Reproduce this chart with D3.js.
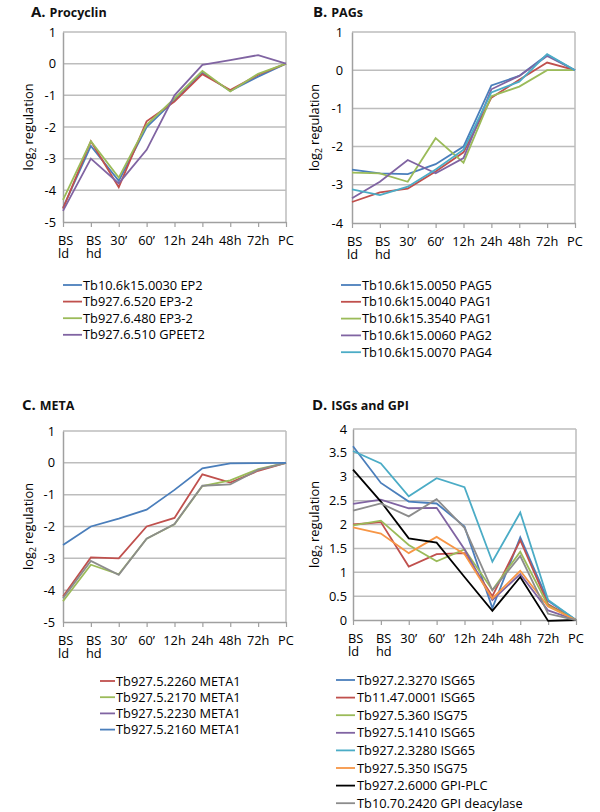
<!DOCTYPE html>
<html><head><meta charset="utf-8">
<script src="https://cdn.jsdelivr.net/npm/d3@7"></script>
<style>
body{margin:0;background:#fff;}
svg{display:block;font-family:"Open Sans",sans-serif;}
</style></head>
<body><svg id="c" width="600" height="812"></svg>
<script>
// ---- data ----
const timepoints = ["BS ld","BS hd","30’","60’","12h","24h","48h","72h","PC"];

// A. Procyclin
const procyclinNames = ["Tb10.6k15.0030 EP2","Tb927.6.520 EP3-2","Tb927.6.480 EP3-2","Tb927.6.510 GPEET2"];
const ep2_0030   = [-4.55,-2.6,-3.7,-2.0,-1.15,-0.28,-0.86,-0.41,0];
const ep32_520   = [-4.58,-2.45,-3.9,-1.82,-1.2,-0.33,-0.83,-0.35,0];
const ep32_480   = [-4.3,-2.45,-3.6,-1.93,-1.1,-0.23,-0.88,-0.32,0];
const gpeet2_510 = [-4.65,-3.0,-3.78,-2.72,-1.0,-0.04,0.11,0.27,0];

// B. PAGs
const pagNames = ["Tb10.6k15.0050 PAG5","Tb10.6k15.0040 PAG1","Tb10.6k15.3540 PAG1","Tb10.6k15.0060 PAG2","Tb10.6k15.0070 PAG4"];
const pag5_0050 = [-2.6,-2.7,-2.72,-2.46,-2.0,-0.4,-0.15,0.4,0];
const pag1_0040 = [-3.45,-3.2,-3.1,-2.65,-2.15,-0.72,-0.25,0.2,0];
const pag1_3540 = [-2.68,-2.7,-2.92,-1.78,-2.42,-0.68,-0.43,0.0,0];
const pag2_0060 = [-3.35,-2.92,-2.35,-2.7,-2.3,-0.5,-0.15,0.37,0];
const pag4_0070 = [-3.12,-3.27,-3.05,-2.6,-2.08,-0.58,-0.3,0.42,0];

// C. META
const metaNames = ["Tb927.5.2260 META1","Tb927.5.2170 META1","Tb927.5.2230 META1","Tb927.5.2160 META1"];
const meta_2260 = [-4.2,-2.97,-3.0,-2.0,-1.73,-0.36,-0.62,-0.25,0];
const meta_2170 = [-4.35,-3.2,-3.5,-2.38,-1.93,-0.73,-0.55,-0.2,0];
const meta_2230 = [-4.25,-3.08,-3.52,-2.38,-1.92,-0.72,-0.68,-0.22,0];
const meta_2160 = [-2.58,-2.0,-1.75,-1.47,-0.85,-0.17,-0.02,-0.01,0];

// D. ISGs and GPI
const isgNames = ["Tb927.2.3270 ISG65","Tb11.47.0001 ISG65","Tb927.5.360 ISG75","Tb927.5.1410 ISG65","Tb927.2.3280 ISG65","Tb927.5.350 ISG75","Tb927.2.6000 GPI-PLC","Tb10.70.2420 GPI deacylase"];
const isg65_3270 = [3.64,2.87,2.48,2.44,1.96,0.25,1.73,0.4,0];
const isg65_0001 = [2.0,2.05,1.12,1.38,1.4,0.5,1.67,0.33,0];
const isg75_360  = [1.98,2.08,1.57,1.23,1.48,0.63,1.43,0.3,0];
const isg65_1410 = [2.43,2.52,2.34,2.35,1.48,0.42,0.96,0.2,0];
const isg65_3280 = [3.54,3.28,2.59,2.97,2.78,1.22,2.25,0.42,0];
const isg75_350  = [1.94,1.81,1.4,1.74,1.38,0.45,1.03,0.28,0];
const gpiplc_6000 = [3.15,2.48,1.71,1.62,0.9,0.19,0.9,-0.02,0];
const gpideac_2420 = [2.29,2.44,2.17,2.53,1.93,0.62,1.34,0.13,0];

const yTicksA = [-5,-4,-3,-2,-1,0,1];
const yTicksB = [-4,-3,-2,-1,0,1];
const yTicksD = [0,0.5,1,1.5,2,2.5,3,3.5,4];

// ---- colours ----
const BLUE="#4a7ebb", RED="#c0504d", GREEN="#9bbb59", PURPLE="#8064a2", CYAN="#4bacc6", ORANGE="#f79646", BLACK="#000000", GRAY="#8c8c8c";

const svg = d3.select("#c");

function panel(cfg){
  const x = d3.scalePoint().domain(timepoints).range([cfg.x0, cfg.x1]);
  const y = d3.scaleLinear().domain(cfg.domain).range([cfg.yBot, cfg.yTop]);
  const g = svg.append("g");

  // grid lines
  g.selectAll("line.grid").data(cfg.ticks.filter(t=>t!==cfg.domain[0])).join("line")
    .attr("x1",cfg.x0).attr("x2",cfg.x1).attr("y1",d=>y(d)).attr("y2",d=>y(d))
    .attr("stroke","#bdbdbd").attr("stroke-width",1.5);
  // right border
  g.append("line").attr("x1",cfg.x1).attr("x2",cfg.x1).attr("y1",cfg.yTop).attr("y2",cfg.yBot)
    .attr("stroke","#bdbdbd").attr("stroke-width",1.5);

  // y axis
  const ya = d3.axisLeft(y).tickValues(cfg.ticks).tickSize(0).tickPadding(cfg.yPad).tickFormat(d=>String(d));
  const yg = g.append("g").attr("transform",`translate(${cfg.x0},0)`).call(ya);
  yg.select(".domain").attr("stroke","#a0a0a0").attr("stroke-width",1.5);
  yg.selectAll("text").attr("font-size",12.8).attr("fill","#000").attr("font-family","'Open Sans',sans-serif");

  // x axis
  const xa = d3.axisBottom(x).tickSize(5).tickSizeOuter(0).tickFormat("");
  const xg = g.append("g").attr("transform",`translate(0,${cfg.yBot})`).call(xa);
  xg.select(".domain").attr("stroke","#a0a0a0").attr("stroke-width",1.5);
  xg.selectAll(".tick line").attr("stroke","#a0a0a0").attr("stroke-width",1.2);
  // x labels (possibly 2 lines)
  timepoints.forEach(tp=>{
    const parts = tp.split(" ");
    const t = g.append("text").attr("font-size",12.8).attr("fill","#000");
    if(parts.length===1){
      t.attr("x",x(tp)).attr("y",cfg.yBot+23).attr("text-anchor","middle").text(tp);
    } else {
      t.attr("text-anchor","start");
      t.append("tspan").attr("x",x(tp)-5).attr("y",cfg.yBot+23).text(parts[0]);
      t.append("tspan").attr("x",x(tp)-5).attr("y",cfg.yBot+36).text(parts[1]);
    }
  });

  // y title
  const yt = g.append("text").attr("transform",`translate(${cfg.yTitleX},${(cfg.yTop+cfg.yBot)/2}) rotate(-90)`)
    .attr("text-anchor","middle").attr("font-size",12.8).attr("fill","#000");
  yt.append("tspan").text("log");
  yt.append("tspan").attr("font-size",8.5).attr("dy",3).text("2");
  yt.append("tspan").attr("dy",-3).text(" regulation");

  // title
  const tt = g.append("text").attr("x",cfg.titleX).attr("y",cfg.titleY).attr("font-weight","bold").attr("fill","#111");
  tt.append("tspan").attr("font-size",15).text(cfg.letter+" ");
  tt.append("tspan").attr("font-size",12.5).text(cfg.title);

  // lines
  const line = d3.line().x((d,i)=>x(timepoints[i])).y(d=>y(d));
  cfg.series.forEach(s=>{
    g.append("path").datum(s.values).attr("d",line).attr("fill","none")
      .attr("stroke",s.color).attr("stroke-width",1.8).attr("stroke-linejoin","miter");
  });

  // legend
  cfg.series.forEach((s,i)=>{
    const cy = cfg.leg.y0 + i*cfg.leg.dy;
    g.append("line").attr("x1",cfg.leg.sx0).attr("x2",cfg.leg.sx1).attr("y1",cy).attr("y2",cy)
      .attr("stroke",s.legendColor||s.color).attr("stroke-width",1.8);
    g.append("text").attr("x",cfg.leg.tx).attr("y",cy+4.5).attr("font-size",12.8).attr("fill","#000").text(s.name);
  });
}

panel({letter:"A.",title:"Procyclin",titleX:31,titleY:17,x0:63,x1:286,yTop:32,yBot:222,domain:[-5,1],ticks:yTicksA,yPad:7,yTitleX:33,
  series:[{name:procyclinNames[0],values:ep2_0030,color:BLUE},{name:procyclinNames[1],values:ep32_520,color:RED},
          {name:procyclinNames[2],values:ep32_480,color:GREEN},{name:procyclinNames[3],values:gpeet2_510,color:PURPLE}],
  leg:{sx0:63,sx1:82,tx:83,y0:285,dy:16.6}});

panel({letter:"B.",title:"PAGs",titleX:313,titleY:17,x0:352,x1:575,yTop:32,yBot:223,domain:[-4,1],ticks:yTicksB,yPad:9,yTitleX:319,
  series:[{name:pagNames[0],values:pag5_0050,color:BLUE},{name:pagNames[1],values:pag1_0040,color:RED},
          {name:pagNames[2],values:pag1_3540,color:GREEN},{name:pagNames[3],values:pag2_0060,color:PURPLE},
          {name:pagNames[4],values:pag4_0070,color:CYAN}],
  leg:{sx0:341,sx1:361,tx:362,y0:285,dy:16.8}});

panel({letter:"C.",title:"META",titleX:22,titleY:410,x0:63,x1:286,yTop:431,yBot:622,domain:[-5,1],ticks:yTicksA,yPad:8,yTitleX:33,
  series:[{name:metaNames[0],values:meta_2260,color:RED},{name:metaNames[1],values:meta_2170,color:GREEN},
          {name:metaNames[2],values:meta_2230,color:GRAY,legendColor:PURPLE},{name:metaNames[3],values:meta_2160,color:BLUE}],
  leg:{sx0:100,sx1:115,tx:116,y0:681,dy:16.2}});

panel({letter:"D.",title:"ISGs and GPI",titleX:312,titleY:410,x0:353,x1:576,yTop:429,yBot:620,domain:[0,4],ticks:yTicksD,yPad:6,yTitleX:319,
  series:[{name:isgNames[0],values:isg65_3270,color:BLUE},{name:isgNames[1],values:isg65_0001,color:RED},
          {name:isgNames[2],values:isg75_360,color:GREEN},{name:isgNames[3],values:isg65_1410,color:PURPLE},
          {name:isgNames[4],values:isg65_3280,color:CYAN},{name:isgNames[5],values:isg75_350,color:ORANGE},
          {name:isgNames[6],values:gpiplc_6000,color:BLACK},{name:isgNames[7],values:gpideac_2420,color:GRAY}],
  leg:{sx0:336,sx1:355,tx:357,y0:680,dy:17.6}});
</script></body></html>
